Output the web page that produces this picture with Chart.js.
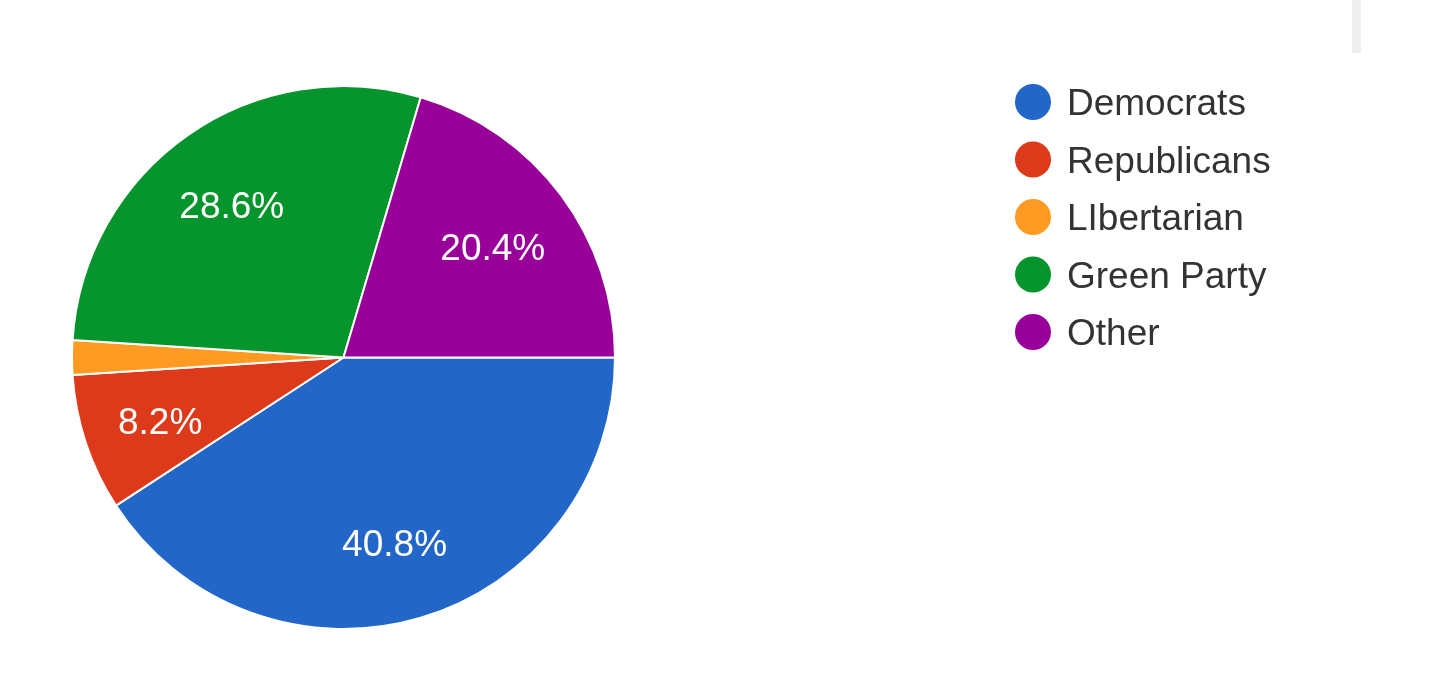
<!DOCTYPE html>
<html>
<head>
<meta charset="utf-8">
<script src="https://cdn.jsdelivr.net/npm/chart.js@4.4.0/dist/chart.umd.min.js"></script>
<style>
  html, body { margin: 0; padding: 0; background: #fff; overflow: hidden; }
  #wrap { position: relative; width: 1440px; height: 673px; }
  #barra { position: absolute; left: 1352px; top: 0; width: 9px; height: 53px; background: #eeeeee; }
</style>
</head>
<body>
<div id="wrap">
  <canvas id="grafico"></canvas>
  <div id="barra"></div>
</div>
<script>
// Dados do gráfico (respostas por partido)
const partidos = ['Democrats', 'Republicans', 'LIbertarian', 'Green Party', 'Other'];
const respostas = [20, 4, 1, 14, 10];
const cores = ['#2266c8', '#dd3a1b', '#ff9a22', '#05952c', '#990099'];

// Rótulos de porcentagem dentro das fatias
const rotulosPlugin = {
  id: 'rotulos',
  afterDatasetsDraw(chart) {
    const ctx = chart.ctx;
    const meta = chart.getDatasetMeta(0);
    const total = respostas.reduce((a, b) => a + b, 0);
    ctx.save();
    ctx.font = '37px "Liberation Sans", Arial, sans-serif';
    ctx.fillStyle = '#ffffff';
    ctx.textAlign = 'center';
    ctx.textBaseline = 'middle';
    meta.data.forEach((arco, i) => {
      const pct = respostas[i] / total * 100;
      if (pct < 5) return; // fatia pequena demais
      const p = arco.getProps(['x', 'y', 'startAngle', 'endAngle', 'outerRadius'], true);
      const meio = (p.startAngle + p.endAngle) / 2;
      const dist = p.outerRadius * 0.7;
      ctx.fillText(pct.toFixed(1) + '%', p.x + Math.cos(meio) * dist - 3, p.y + Math.sin(meio) * dist + 6);
    });
    ctx.restore();
  }
};

// Legenda desenhada à direita
const legendaPlugin = {
  id: 'legenda',
  afterDraw(chart) {
    const ctx = chart.ctx;
    ctx.save();
    ctx.font = '37px "Liberation Sans", Arial, sans-serif';
    ctx.textBaseline = 'middle';
    chart.data.labels.forEach((nome, i) => {
      const y = 102 + i * 57.5;
      ctx.beginPath();
      ctx.arc(1033, y, 18, 0, Math.PI * 2);
      ctx.fillStyle = chart.data.datasets[0].backgroundColor[i];
      ctx.fill();
      ctx.fillStyle = '#333333';
      ctx.fillText(nome, 1067, y + 3);
    });
    ctx.restore();
  }
};

const ctxGrafico = document.getElementById('grafico').getContext('2d');
new Chart(ctxGrafico, {
  type: 'pie',
  data: {
    labels: partidos,
    datasets: [{
      data: respostas,
      backgroundColor: cores,
      borderColor: '#ffffff',
      borderWidth: 2
    }]
  },
  options: {
    responsive: true,
    maintainAspectRatio: false,
    animation: false,
    events: [],
    rotation: 90,
    layout: { padding: { top: 85, bottom: 43, left: 71, right: 824 } },
    plugins: {
      legend: { display: false },
      tooltip: { enabled: false }
    }
  },
  plugins: [rotulosPlugin, legendaPlugin]
});
</script>
</body>
</html>
